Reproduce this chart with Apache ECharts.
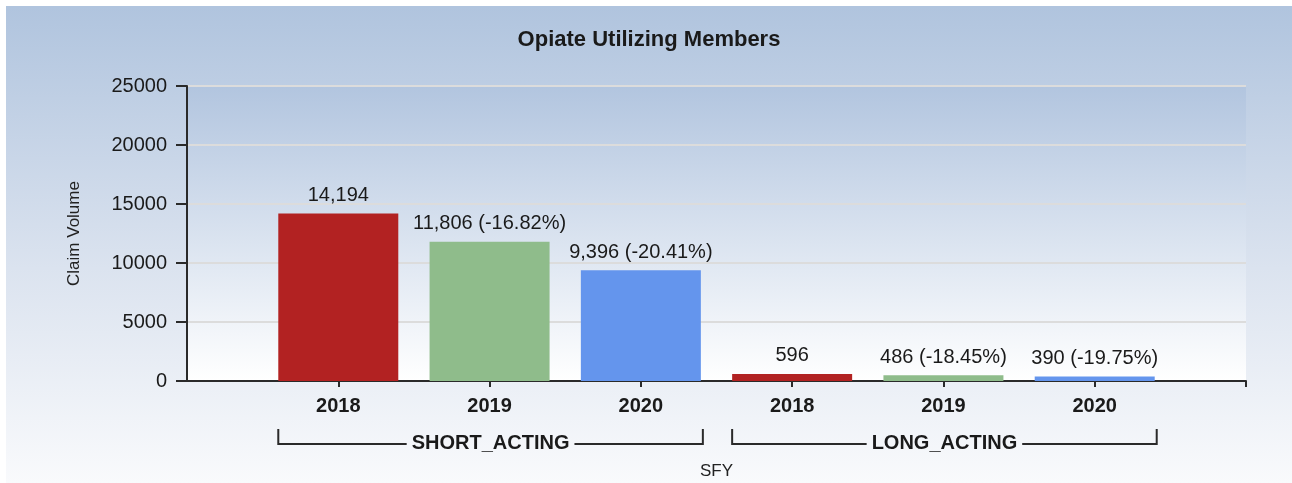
<!DOCTYPE html>
<html>
<head>
<meta charset="utf-8">
<script src="https://cdn.jsdelivr.net/npm/echarts@6/dist/echarts.min.js"></script>
<style>
  html, body { margin: 0; padding: 0; background: #fff; }
  #chart {
    position: absolute; left: 6px; top: 6px;
    width: 1286px; height: 477px;
    background: linear-gradient(to bottom, #b0c4de 0%, #dbe3ef 55%, #f9fafc 100%);
  }
</style>
</head>
<body>
<div id="chart"></div>
<script>
const FONT = 'Arial, "Liberation Sans", sans-serif'

// data
const categories = ['2018', '2019', '2020', '2018', '2019', '2020']
const claimVolume = [14194, 11806, 9396, 596, 486, 390]
const pctChange = [null, -16.82, -20.41, null, -18.45, -19.75]
const groupNames = ['SHORT_ACTING', 'LONG_ACTING']
const groupRanges = [[0, 2], [3, 5]]
const yTicks = [0, 5000, 10000, 15000, 20000, 25000]

const YEAR_COLORS = { '2018': '#b22222', '2019': '#8fbc8b', '2020': '#6495ed' }

// padded so the bars sit on the category points (boundaryGap off)
const axisCats = ['', ...categories, '']

const chart = echarts.init(document.getElementById('chart'))

chart.setOption({
  animation: false,
  title: {
    text: 'Opiate Utilizing Members',
    left: 'center',
    top: 18,
    textStyle: { fontFamily: FONT, fontSize: 22, fontWeight: 'bold', color: '#1a1a1a' },
  },
  grid: {
    left: 181, top: 80, width: 1059, height: 295,
    outerBoundsMode: 'none',
    show: true,
    borderWidth: 0,
    backgroundColor: new echarts.graphic.LinearGradient(0, 0, 0, 1, [
      { offset: 0, color: '#b2c5df' },
      { offset: 1, color: '#ffffff' },
    ]),
  },
  xAxis: {
    type: 'category',
    data: axisCats,
    boundaryGap: false,
    name: 'SFY',
    nameLocation: 'middle',
    nameGap: 82,
    nameTextStyle: { fontFamily: FONT, fontSize: 17, color: '#222' },
    axisLine: { lineStyle: { color: '#2a2a2a', width: 2 } },
    axisTick: { interval: (i) => i !== 0, length: 6, lineStyle: { color: '#2a2a2a', width: 2 } },
    axisLabel: {
      interval: 0, margin: 15,
      fontFamily: FONT, fontSize: 20, fontWeight: 'bold', color: '#1a1a1a',
    },
    splitLine: { show: false },
  },
  yAxis: {
    type: 'value',
    min: yTicks[0],
    max: yTicks[yTicks.length - 1],
    interval: yTicks[1] - yTicks[0],
    name: 'Claim Volume',
    nameLocation: 'middle',
    nameGap: 104,
    nameTextStyle: { fontFamily: FONT, fontSize: 17, color: '#222' },
    axisLine: { show: true, lineStyle: { color: '#2a2a2a', width: 2 } },
    axisTick: { show: true, length: 11, lineStyle: { color: '#2a2a2a', width: 2 } },
    axisLabel: {
      margin: 20, fontFamily: FONT, fontSize: 20, color: '#1a1a1a',
      formatter: (v) => String(v),
    },
    splitLine: { lineStyle: { color: '#dcdcdc', width: 2 } },
  },
  series: [{
    type: 'bar',
    barWidth: 120,
    data: ['-', ...claimVolume.map((v, i) => ({
      value: v,
      itemStyle: { color: YEAR_COLORS[categories[i]] },
    })), '-'],
    label: {
      show: true,
      position: 'top',
      distance: 8,
      fontFamily: FONT, fontSize: 20, color: '#1a1a1a',
      formatter: (p) => {
        const i = p.dataIndex - 1
        const txt = claimVolume[i].toLocaleString('en-US')
        return pctChange[i] == null ? txt : `${txt} (${pctChange[i].toFixed(2)}%)`
      },
    },
  }],
})

// group brackets under the year labels
const measure = document.createElement('canvas').getContext('2d')
const groupFont = `bold 20px ${FONT}`
measure.font = groupFont
const halfBar = 60
const yTop = 423, yLine = 438
const graphic = []
groupNames.forEach((name, g) => {
  const x0 = chart.convertToPixel({ xAxisIndex: 0 }, groupRanges[g][0] + 1) - halfBar
  const x1 = chart.convertToPixel({ xAxisIndex: 0 }, groupRanges[g][1] + 1) + halfBar + 2
  const mid = (x0 + x1) / 2
  const half = measure.measureText(name).width / 2 + 5
  const ls = { stroke: '#2a2a2a', lineWidth: 2 }
  graphic.push(
    { type: 'polyline', shape: { points: [[x0, yTop], [x0, yLine], [mid - half, yLine]] }, style: ls },
    { type: 'polyline', shape: { points: [[mid + half, yLine], [x1, yLine], [x1, yTop]] }, style: ls },
    {
      type: 'text', x: mid, y: yLine - 1,
      style: {
        text: name, align: 'center', verticalAlign: 'middle',
        font: groupFont, fill: '#1a1a1a',
      },
    },
  )
})
chart.setOption({ graphic })
</script>
</body>
</html>
